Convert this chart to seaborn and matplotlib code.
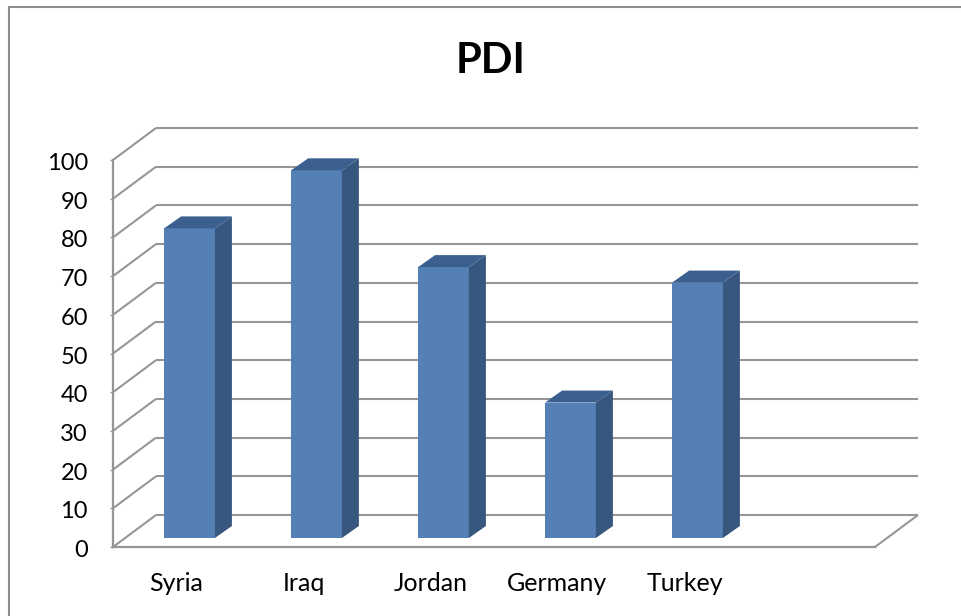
import matplotlib
matplotlib.use("Agg")
import matplotlib.pyplot as plt
from matplotlib.lines import Line2D
from matplotlib.patches import Polygon
from matplotlib.transforms import Affine2D
import seaborn as sns
import pandas as pd

countries = ["Syria", "Iraq", "Jordan", "Germany", "Turkey"]
pdi_scores = [80, 95, 70, 35, 66]
y_ticks = [0, 10, 20, 30, 40, 50, 60, 70, 80, 90, 100]

W, H = 961, 616
GREY = "#969696"
FRONT = "#5480B6"
SIDE = "#37577F"
TOP = "#3B6090"

sns.set_theme(style="white")
plt.rcParams["font.family"] = ["Lato", "DejaVu Sans"]

fig = plt.figure(figsize=(W / 100, H / 100), dpi=100, facecolor="white")
ax = fig.add_axes([113 / W, (H - 547) / H, 762 / W, 387 / H])
ax.patch.set_alpha(0)

frame = pd.DataFrame({"country": countries, "pdi": pdi_scores})
# A sixth, empty slot leaves the gap on the right of the floor
sns.barplot(data=frame, x="country", y="pdi", order=countries + [""],
            color=FRONT, saturation=1, width=0.4, ax=ax, zorder=3)
ax.set_xlim(-0.5, 5.5)
ax.set_ylim(0, 100)
ax.set_xlabel("")
ax.set_ylabel("")

# Pixel offsets of the back wall and of the bars inside the depth of the chart
wall = ax.transData + Affine2D().translate(43, 32)
inset = ax.transData + Affine2D().translate(13, 9)
depth_x = 17 / 127
depth_y = 12 / 3.87

line_style = dict(color=GREY, lw=1.5, clip_on=False, solid_capstyle="butt", zorder=1)
x0, x1 = ax.get_xlim()
for v in y_ticks:
    ax.plot([x0, x1], [v, v], transform=wall, **line_style)
    # Diagonal from the front axis to the wall
    ax.plot([x0, x0 + 43 / 127], [v, v + 32 / 3.87], **line_style)
ax.plot([x1, x1 + 43 / 127], [0, 32 / 3.87], **line_style)

# Extrude each bar with a darker top and side face
for bar in ax.patches[:len(countries)]:
    bar.set_transform(inset)
    bar.set_clip_on(False)
    bar.set_linewidth(0)
    left, right, h = bar.get_x(), bar.get_x() + bar.get_width(), bar.get_height()
    ax.add_patch(Polygon([(right, 0), (right + depth_x, depth_y),
                          (right + depth_x, h + depth_y), (right, h)],
                         closed=True, fc=SIDE, lw=0, transform=inset,
                         clip_on=False, zorder=3))
    ax.add_patch(Polygon([(left, h), (left + depth_x, h + depth_y),
                          (right + depth_x, h + depth_y), (right, h)],
                         closed=True, fc=TOP, lw=0, transform=inset,
                         clip_on=False, zorder=3))

sns.despine(ax=ax, top=True, right=True)
for side in ("left", "bottom"):
    ax.spines[side].set_color(GREY)
    ax.spines[side].set_linewidth(1.6)
    ax.spines[side].set_zorder(2)

ax.set_yticks(y_ticks)
ax.tick_params(axis="y", length=2, width=1, color=GREY, pad=16,
               labelsize=17, labelcolor="black", left=True)
ax.tick_params(axis="x", length=0, pad=18, labelsize=18, labelcolor="black")

# Nudge the value labels down to sit level with the axis ticks
for label in ax.get_yticklabels():
    label.set_transform(label.get_transform() + Affine2D().translate(0, -1.5))

# Outer chart border, running off the top right and bottom left of the image
fig.add_artist(Line2D([9 / W, 9 / W, 1], [0, (H - 7) / H, (H - 7) / H],
                      color="#8e8e8e", lw=1.5, transform=fig.transFigure))

fig.text(491 / W, (H - 61) / H, "PDI", ha="center", va="center",
         fontsize=30, fontweight="bold", color="black")

fig.savefig("out.png", dpi=100)
